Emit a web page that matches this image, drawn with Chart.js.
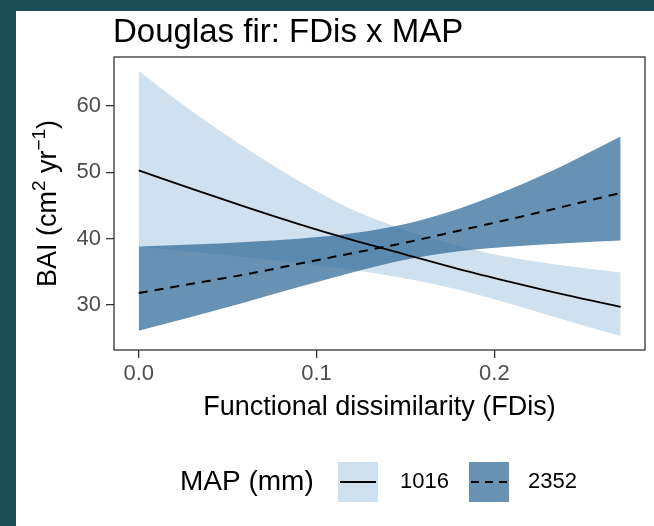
<!DOCTYPE html>
<html>
<head>
<meta charset="utf-8">
<script src="https://cdn.jsdelivr.net/npm/chart.js@4"></script>
<style>
  html, body { margin: 0; padding: 0; background: #1d4f57; width: 654px; height: 526px; overflow: hidden; }
  #fdisChart { position: absolute; left: 16px; top: 11px; background: #fff; }
</style>
</head>
<body>
<canvas id="fdisChart" width="638" height="515"></canvas>
<script>
// functional dissimilarity values along the x axis
const fdis = [0, 0.03, 0.06, 0.09, 0.12, 0.15, 0.18, 0.21, 0.24, 0.271];

// MAP = 1016 mm: fitted BAI and its confidence band
const fit1016 = [50.3, 47.5, 44.8, 42.2, 39.8, 37.6, 35.4, 33.4, 31.5, 29.7];
const upper1016 = [65.3, 59.2, 53.7, 48.7, 44.4, 41.3, 38.9, 37.1, 35.9, 34.9];
const lower1016 = [38.8, 38.0, 37.2, 36.3, 35.3, 34.0, 32.3, 30.1, 27.7, 25.3];

// MAP = 2352 mm
const fit2352 = [31.8, 33.2, 34.6, 36.2, 37.8, 39.4, 41.2, 43.0, 44.9, 46.9];
const upper2352 = [38.8, 39.1, 39.5, 40.0, 40.8, 42.2, 44.5, 47.6, 51.2, 55.4];
const lower2352 = [26.1, 28.2, 30.4, 32.7, 34.9, 36.8, 38.1, 38.8, 39.3, 39.7];

const xTicks = [0, 0.1, 0.2];
const xTickLabels = ["0.0", "0.1", "0.2"];
const yTicks = [30, 40, 50, 60];
const mapLevels = ["1016", "2352"];

const FONT = "'Liberation Sans', Arial, sans-serif";
const lightFill = "#cfe0ee";
const darkFill = "rgba(52, 110, 155, 0.75)";

const pts = ys => fdis.map((x, i) => ({ x: x, y: ys[i] }));

const band = (ys, fill, color, order) => ({
  data: pts(ys), fill: fill, backgroundColor: color, borderWidth: 0,
  pointRadius: 0, cubicInterpolationMode: "monotone", order: order
});

// white page, panel frame, titles and the ggplot-style legend
const decor = {
  id: "decor",
  beforeDraw(chart) {
    const ctx = chart.ctx;
    ctx.save();
    ctx.fillStyle = "#fff";
    ctx.fillRect(0, 0, chart.width, chart.height);
    ctx.restore();
  },
  afterDraw(chart) {
    const ctx = chart.ctx;
    const a = chart.chartArea;
    ctx.save();

    ctx.strokeStyle = "#333";
    ctx.lineWidth = 1.3;
    ctx.strokeRect(a.left, a.top, a.right - a.left, a.bottom - a.top);

    ctx.fillStyle = "#000";
    ctx.textBaseline = "alphabetic";
    ctx.textAlign = "left";
    ctx.font = "33px " + FONT;
    ctx.fillText("Douglas fir: FDis x MAP", 97, 31);

    ctx.font = "27px " + FONT;
    ctx.textAlign = "center";
    ctx.textBaseline = "middle";
    ctx.fillText("Functional dissimilarity (FDis)", (a.left + a.right) / 2, 397);

    // rotated y title with superscripts
    const parts = [
      { t: "BAI (cm", s: 27, dy: 0 },
      { t: "2", s: 19, dy: -11 },
      { t: " yr", s: 27, dy: 0 },
      { t: "\u22121", s: 19, dy: -11 },
      { t: ")", s: 27, dy: 0 }
    ];
    let total = 0;
    parts.forEach(p => { ctx.font = p.s + "px " + FONT; p.w = ctx.measureText(p.t).width; total += p.w; });
    ctx.translate(40, (a.top + a.bottom) / 2);
    ctx.rotate(-Math.PI / 2);
    ctx.textAlign = "left";
    ctx.textBaseline = "alphabetic";
    let px = -total / 2;
    parts.forEach(p => { ctx.font = p.s + "px " + FONT; ctx.fillText(p.t, px, p.dy); px += p.w; });
    ctx.setTransform(1, 0, 0, 1, 0, 0);

    // legend
    const cy = 471;
    ctx.textBaseline = "middle";
    ctx.textAlign = "left";
    ctx.font = "28px " + FONT;
    ctx.fillText("MAP (mm)", 164, cy);
    const keys = [
      { x: 322, fill: lightFill, dash: [], label: 384 },
      { x: 453, fill: darkFill, dash: [8, 6], label: 512 }
    ];
    keys.forEach((k, i) => {
      ctx.fillStyle = k.fill;
      ctx.fillRect(k.x, cy - 20, 40, 40);
      ctx.strokeStyle = "#000";
      ctx.lineWidth = 2;
      ctx.setLineDash(k.dash);
      ctx.beginPath();
      ctx.moveTo(k.x + 2, cy);
      ctx.lineTo(k.x + 38, cy);
      ctx.stroke();
      ctx.setLineDash([]);
      ctx.fillStyle = "#000";
      ctx.font = "22px " + FONT;
      ctx.fillText(mapLevels[i], k.label, cy);
    });
    ctx.restore();
  }
};

new Chart(document.getElementById("fdisChart"), {
  type: "line",
  data: {
    datasets: [
      band(upper1016, "+1", lightFill, 10),
      band(lower1016, false, lightFill, 10),
      band(upper2352, "+1", darkFill, 8),
      band(lower2352, false, darkFill, 8),
      {
        label: mapLevels[0], data: pts(fit1016), borderColor: "#000", borderWidth: 1.8,
        pointRadius: 0, fill: false, cubicInterpolationMode: "monotone", order: 2
      },
      {
        label: mapLevels[1], data: pts(fit2352), borderColor: "#000", borderWidth: 2,
        borderDash: [9, 7], pointRadius: 0, fill: false, cubicInterpolationMode: "monotone", order: 1
      }
    ]
  },
  options: {
    responsive: false,
    animation: false,
    devicePixelRatio: 1,
    layout: { padding: { left: 0, top: 46, right: 9, bottom: 0 } },
    plugins: { legend: { display: false }, title: { display: false }, tooltip: { enabled: false } },
    scales: {
      x: {
        type: "linear", min: -0.0139, max: 0.2847,
        afterBuildTicks: s => { s.ticks = xTicks.map(v => ({ value: v })); },
        afterFit: s => { s.height = 176; },
        grid: { drawOnChartArea: false, drawTicks: true, tickLength: 8, color: "#333", lineWidth: 1.3 },
        border: { display: false },
        ticks: { color: "#4d4d4d", padding: 3, font: { family: FONT, size: 22 }, callback: (v, i) => xTickLabels[i] }
      },
      y: {
        min: 23.2, max: 67.4,
        afterBuildTicks: s => { s.ticks = yTicks.map(v => ({ value: v })); },
        afterFit: s => { s.width = 98; },
        grid: { drawOnChartArea: false, drawTicks: true, tickLength: 8, color: "#333", lineWidth: 1.3 },
        border: { display: false },
        ticks: { color: "#4d4d4d", padding: 5, font: { family: FONT, size: 22 } }
      }
    }
  },
  plugins: [decor]
});
</script>
</body>
</html>
